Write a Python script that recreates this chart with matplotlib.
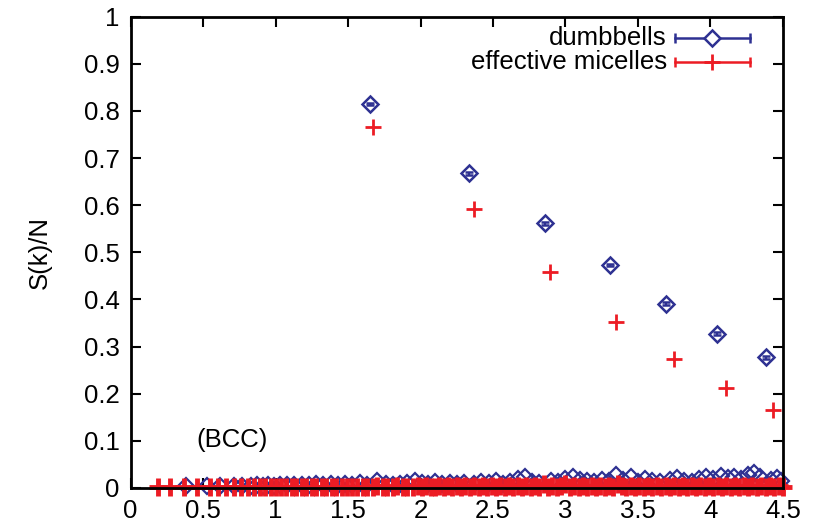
import matplotlib
matplotlib.use('Agg')
import matplotlib.pyplot as plt
from matplotlib.ticker import FormatStrFormatter

# Bragg peaks (BCC)
blue_peak_k = [1.648, 2.334, 2.860, 3.310, 3.690, 4.045, 4.380]
blue_peak_s = [0.815, 0.668, 0.562, 0.473, 0.391, 0.327, 0.277]
blue_peak_err = [0.003, 0.003, 0.003, 0.003, 0.003, 0.003, 0.003]
red_peak_k = [1.669, 2.368, 2.895, 3.350, 3.750, 4.110, 4.430]
red_peak_s = [0.767, 0.591, 0.458, 0.352, 0.273, 0.213, 0.165]

# background (non-Bragg) wave vectors, close to zero
blue_bg_k = [0.38, 0.53, 0.62, 0.71, 0.77, 0.83, 0.87, 0.91, 0.95, 0.99,
             1.03, 1.08, 1.13, 1.18, 1.23, 1.28, 1.33, 1.38, 1.43, 1.48,
             1.53, 1.58, 1.63, 1.70, 1.76, 1.81, 1.86, 1.91, 1.96, 2.01,
             2.05, 2.10, 2.15, 2.20, 2.25, 2.30, 2.37, 2.42, 2.47, 2.52,
             2.57, 2.62, 2.67, 2.72, 2.77, 2.82, 2.90, 2.95, 3.00, 3.05,
             3.10, 3.15, 3.20, 3.25, 3.30, 3.35, 3.40, 3.45, 3.50, 3.55,
             3.60, 3.65, 3.72, 3.77, 3.82, 3.87, 3.92, 3.97, 4.02, 4.07,
             4.12, 4.16, 4.21, 4.26, 4.30, 4.34, 4.42, 4.46, 4.49]
blue_bg_s = [0.004, 0.004, 0.004, 0.004, 0.004, 0.004, 0.005, 0.004, 0.005, 0.004,
             0.005, 0.006, 0.007, 0.006, 0.007, 0.008, 0.006, 0.009, 0.007, 0.008,
             0.006, 0.010, 0.007, 0.014, 0.008, 0.007, 0.009, 0.011, 0.015, 0.010,
             0.008, 0.012, 0.009, 0.011, 0.008, 0.010, 0.009, 0.012, 0.010, 0.014,
             0.009, 0.013, 0.018, 0.022, 0.013, 0.011, 0.015, 0.012, 0.018, 0.022,
             0.016, 0.014, 0.012, 0.016, 0.014, 0.028, 0.016, 0.022, 0.013, 0.018,
             0.015, 0.012, 0.016, 0.020, 0.014, 0.012, 0.019, 0.024, 0.018, 0.025,
             0.020, 0.022, 0.018, 0.027, 0.032, 0.022, 0.016, 0.020, 0.014]

red_bg_k = [0.19, 0.27, 0.37, 0.46, 0.55, 0.60, 0.66, 0.71, 0.76, 0.81,
            0.85, 0.89, 0.93, 0.97,
            1.00, 1.04, 1.07, 1.11, 1.14, 1.18, 1.21, 1.25, 1.28, 1.32,
            1.35, 1.39, 1.42, 1.46, 1.49, 1.53, 1.56, 1.60, 1.63, 1.67,
            1.70, 1.74, 1.77, 1.81, 1.84, 1.88, 1.91, 1.95, 1.98,
            2.01, 2.04, 2.07, 2.10, 2.13, 2.16, 2.19, 2.22, 2.25, 2.28,
            2.31, 2.34, 2.37, 2.40, 2.43, 2.46, 2.49,
            2.52, 2.55, 2.58, 2.61, 2.64, 2.67, 2.70, 2.73, 2.76, 2.79,
            2.82, 2.85, 2.88, 2.91, 2.94, 2.97,
            3.00, 3.03, 3.06, 3.09, 3.12, 3.15, 3.18, 3.21, 3.24, 3.27,
            3.30, 3.33, 3.36, 3.39, 3.42, 3.45, 3.48,
            3.51, 3.54, 3.57, 3.60, 3.63, 3.66, 3.69, 3.72, 3.75, 3.78,
            3.81, 3.84, 3.87, 3.90, 3.93, 3.96, 3.99,
            4.02, 4.05, 4.08, 4.11, 4.14, 4.17, 4.20, 4.23, 4.26, 4.29,
            4.32, 4.35, 4.38, 4.41, 4.44, 4.47, 4.50]
red_bg_s = [0.001, 0.001, 0.001, 0.001, 0.001, 0.001, 0.001, 0.001, 0.001, 0.001,
            0.001, 0.001, 0.002, 0.001,
            0.002, 0.001, 0.002, 0.001, 0.002, 0.001, 0.002, 0.002, 0.001, 0.002,
            0.001, 0.002, 0.002, 0.001, 0.002, 0.001, 0.002, 0.002, 0.001, 0.002,
            0.003, 0.002, 0.001, 0.002, 0.003, 0.002, 0.001, 0.002, 0.003,
            0.002, 0.003, 0.002, 0.001, 0.003, 0.002, 0.003, 0.002, 0.003, 0.002,
            0.003, 0.002, 0.003, 0.002, 0.003, 0.002, 0.003,
            0.002, 0.003, 0.002, 0.003, 0.002, 0.003, 0.002, 0.003, 0.002, 0.003,
            0.002, 0.008, 0.002, 0.003, 0.002, 0.003,
            0.008, 0.002, 0.003, 0.002, 0.003, 0.002, 0.003, 0.002, 0.003, 0.002,
            0.003, 0.002, 0.009, 0.003, 0.002, 0.003, 0.002,
            0.003, 0.002, 0.003, 0.002, 0.003, 0.002, 0.003, 0.002, 0.003, 0.002,
            0.003, 0.002, 0.003, 0.002, 0.003, 0.002, 0.003,
            0.002, 0.003, 0.002, 0.003, 0.002, 0.003, 0.002, 0.003, 0.002, 0.003,
            0.002, 0.003, 0.002, 0.003, 0.002, 0.003, 0.002]

xticks = [0, 0.5, 1, 1.5, 2, 2.5, 3, 3.5, 4, 4.5]
yticks = [0, 0.1, 0.2, 0.3, 0.4, 0.5, 0.6, 0.7, 0.8, 0.9, 1]

blue = '#2e3192'
red = '#ec1c24'
fs = 18.5

plt.rcParams['font.family'] = ['Liberation Sans', 'DejaVu Sans']
plt.rcParams['font.size'] = fs

fig = plt.figure(figsize=(8.32, 5.24), dpi=100)
ax = fig.add_axes([0.157, 0.069, 0.784, 0.899])

# dumbbells
ax.errorbar(blue_peak_k, blue_peak_s, yerr=blue_peak_err, fmt='D', color=blue,
            ms=8, mfc='none', mew=1.8, capsize=3, elinewidth=1.5, capthick=1.8)
ax.plot(blue_bg_k, blue_bg_s, 'D', color=blue, ms=8, mfc='none', mew=1.6,
        clip_on=False)

# effective micelles
ax.plot(red_peak_k, red_peak_s, '+', color=red, ms=11, mew=2)
ax.plot(red_bg_k, red_bg_s, '+', color=red, ms=13, mew=3.5, clip_on=False)

ax.set_xlim(0, 4.5)
ax.set_ylim(0, 1)
ax.set_xticks(xticks)
ax.set_yticks(yticks)
ax.xaxis.set_major_formatter(FormatStrFormatter('%g'))
ax.yaxis.set_major_formatter(FormatStrFormatter('%g'))
ax.tick_params(direction='in', length=7, width=1.5, top=True, right=True,
               labelsize=fs, pad=8)
for s in ax.spines.values():
    s.set_linewidth(2)
    s.set_zorder(3)

ax.set_ylabel('S(k)/N', fontsize=fs, labelpad=23)
ax.text(0.70, 0.102, '(BCC)', fontsize=fs, ha='center', va='center')

# key, gnuplot style (text right-aligned, sample on the right)
keys = [('dumbbells', blue, 'D', 8, 0.955), ('effective micelles', red, '+', 11, 0.904)]
for label, col, mk, ms, yk in keys:
    ax.text(0.822, yk, label, transform=ax.transAxes, ha='right', va='center',
            fontsize=fs)
    ax.plot([0.834, 0.949], [yk, yk], color=col, lw=1.8, transform=ax.transAxes)
    ax.plot([0.834, 0.949], [yk, yk], '|', color=col, ms=7, mew=1.8,
            transform=ax.transAxes)
    ax.plot([0.8915], [yk], mk, color=col, ms=ms, mfc='white' if mk == 'D' else col,
            mew=1.8 if mk == 'D' else 2, transform=ax.transAxes)

fig.savefig('out.png', dpi=100)
